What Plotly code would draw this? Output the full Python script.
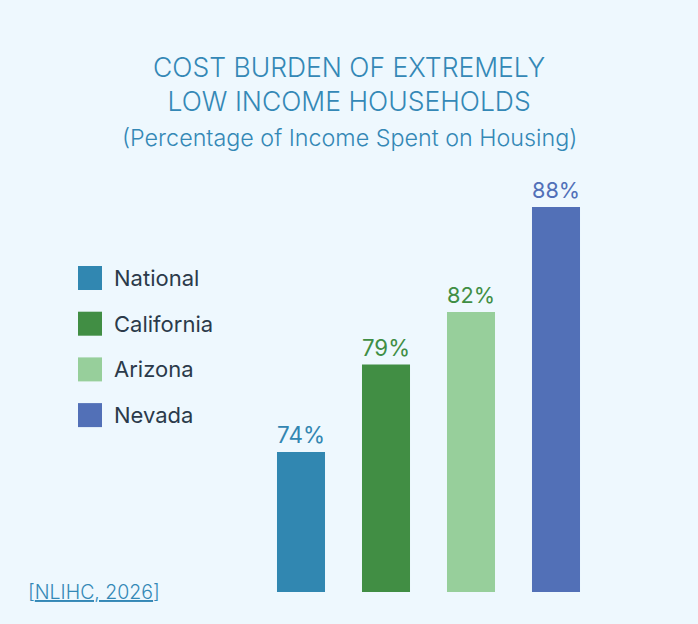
import plotly.graph_objects as go

# ---- data ----
categories = ["National", "California", "Arizona", "Nevada"]
values = [74, 79, 82, 88]

# ---- styles ----
bar_colors = ["#3187b1", "#418e44", "#97cf9b", "#5270b7"]
label_colors = ["#3286b1", "#408e44", "#408e44", "#5170b8"]
title_color = "#3488b6"
legend_text_color = "#2b3a4a"
bg = "#eef8fe"
font_family = "Inter, Lato, 'Open Sans', sans-serif"

W, H = 698, 624

fig = go.Figure()
fig.add_trace(go.Bar(
    x=categories,
    y=values,
    marker=dict(color=bar_colors, line=dict(width=0)),
    texttemplate="%{y}%",
    textposition="outside",
    textfont=dict(family=font_family, size=23, color=label_colors, weight=400),
    cliponaxis=False,
    showlegend=False,
    hoverinfo="skip",
))

annotations = [
    dict(text="COST BURDEN OF EXTREMELY<br>LOW INCOME HOUSEHOLDS",
         x=0.5, y=(H - 84.5) / H, xref="paper", yref="paper",
         xanchor="center", yanchor="middle", showarrow=False,
         font=dict(family=font_family, size=26.5, color=title_color, weight=300)),
    dict(text="(Percentage of Income Spent on Housing)",
         x=0.5, y=(H - 137) / H, xref="paper", yref="paper",
         xanchor="center", yanchor="middle", showarrow=False,
         font=dict(family=font_family, size=23.3, color=title_color, weight=300)),
    dict(text="[<u>NLIHC, 2026</u>]",
         x=26 / W, y=(H - 592) / H, xref="paper", yref="paper",
         xanchor="left", yanchor="middle", showarrow=False,
         font=dict(family=font_family, size=19.5, color=title_color, weight=300)),
]

shapes = []
legend_top = 278
legend_step = 45.7
for i, (cat, col) in enumerate(zip(categories, bar_colors)):
    cy = legend_top + i * legend_step
    shapes.append(dict(type="rect", xref="paper", yref="paper",
                       x0=78 / W, x1=102 / W,
                       y0=(H - cy - 12) / H, y1=(H - cy + 12) / H,
                       fillcolor=col, line=dict(width=0)))
    annotations.append(dict(text=cat, x=112 / W, y=(H - cy) / H,
                            xref="paper", yref="paper",
                            xanchor="left", yanchor="middle", showarrow=False,
                            font=dict(family=font_family, size=22,
                                      color=legend_text_color, weight=400)))

fig.update_layout(
    width=W, height=H,
    margin=dict(l=0, r=0, t=0, b=0),
    paper_bgcolor=bg, plot_bgcolor=bg,
    bargap=0.435,
    xaxis=dict(domain=[258.5 / W, 598.5 / W], visible=False,
               range=[-0.5, 3.5]),
    yaxis=dict(domain=[(H - 592) / H, (H - 172) / H], visible=False,
               range=[66, 90]),
    annotations=annotations,
    shapes=shapes,
)

fig.write_html("out.html")
